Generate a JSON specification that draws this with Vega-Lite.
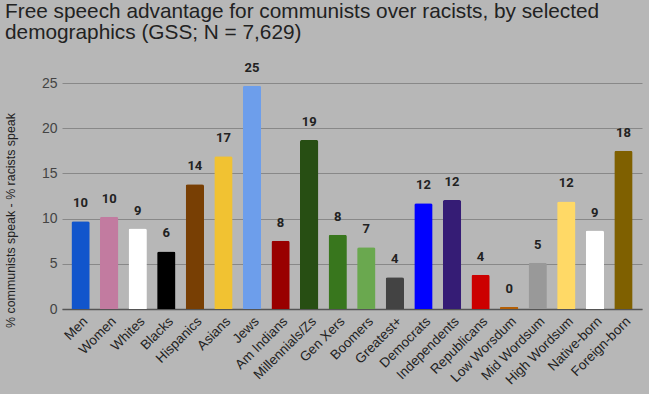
{
  "$schema": "https://vega.github.io/schema/vega-lite/v6.json",
  "width": 580,
  "height": 226,
  "autosize": "none",
  "padding": {"left": 62, "top": 83, "right": 7, "bottom": 85},
  "background": "#b7b7b7",
  "title": {
    "text": ["Free speech advantage for communists over racists, by selected", "demographics (GSS; N = 7,629)"],
    "anchor": "start",
    "frame": "group",
    "dx": -57,
    "offset": 18,
    "font": "Liberation Sans",
    "fontSize": 20.8,
    "fontWeight": "normal",
    "lineHeight": 20.5,
    "color": "#222222"
  },
  "config": {
    "view": {"stroke": null},
    "axis": {"labelFont": "Liberation Sans", "titleFont": "Liberation Sans"}
  },
  "data": {
    "values": [
      {"group": "Men", "value": 9.7, "color": "#1155cc"},
      {"group": "Women", "value": 10.2, "color": "#c27ba0"},
      {"group": "Whites", "value": 8.9, "color": "#ffffff"},
      {"group": "Blacks", "value": 6.37, "color": "#000000"},
      {"group": "Hispanics", "value": 13.8, "color": "#783f04"},
      {"group": "Asians", "value": 16.9, "color": "#f1c232"},
      {"group": "Jews", "value": 24.7, "color": "#6d9eeb"},
      {"group": "Am Indians", "value": 7.55, "color": "#990000"},
      {"group": "Millennials/Zs", "value": 18.7, "color": "#274e13"},
      {"group": "Gen Xers", "value": 8.22, "color": "#38761d"},
      {"group": "Boomers", "value": 6.82, "color": "#6aa84f"},
      {"group": "Greatest+", "value": 3.52, "color": "#434343"},
      {"group": "Democrats", "value": 11.69, "color": "#0000ff"},
      {"group": "Independents", "value": 12.06, "color": "#351c75"},
      {"group": "Republicans", "value": 3.8, "color": "#cc0000"},
      {"group": "Low Worsdum", "value": 0.22, "color": "#b45f06"},
      {"group": "Mid Wordsum", "value": 5.12, "color": "#999999"},
      {"group": "High Wordsum", "value": 11.9, "color": "#ffd966"},
      {"group": "Native-born", "value": 8.67, "color": "#ffffff"},
      {"group": "Foreign-born", "value": 17.5, "color": "#7f6000"}
    ]
  },
  "encoding": {
    "x": {
      "field": "group",
      "type": "nominal",
      "sort": null,
      "scale": {"paddingInner": 0.36, "paddingOuter": 0.33},
      "axis": {
        "title": null,
        "labelAngle": -45,
        "labelFontSize": 13.5,
        "labelColor": "#222222",
        "ticks": false,
        "domainColor": "#555555",
        "domainWidth": 1.5,
        "labelPadding": 5
      }
    },
    "y": {
      "field": "value",
      "type": "quantitative",
      "scale": {"domain": [0, 25], "nice": false},
      "axis": {
        "title": "% communists speak - % racists speak",
        "titleFontSize": 12.4,
        "titleFontWeight": "normal",
        "titleColor": "#222222",
        "titlePadding": 24,
        "titleY": 137,
        "values": [0, 5, 10, 15, 20, 25],
        "labelFontSize": 14,
        "labelColor": "#444444",
        "labelPadding": 5,
        "ticks": false,
        "domain": false,
        "gridColor": "#888888",
        "gridWidth": 1
      }
    }
  },
  "layer": [
    {
      "mark": {"type": "bar", "cornerRadiusTopLeft": 2, "cornerRadiusTopRight": 2},
      "encoding": {
        "color": {"field": "color", "type": "nominal", "scale": null}
      }
    },
    {
      "mark": {"type": "text", "dy": -18, "font": "Roboto", "fontWeight": "bold", "fontSize": 13, "color": "#222222"},
      "encoding": {
        "text": {"field": "value", "type": "quantitative", "format": ".0f"}
      }
    }
  ]
}
